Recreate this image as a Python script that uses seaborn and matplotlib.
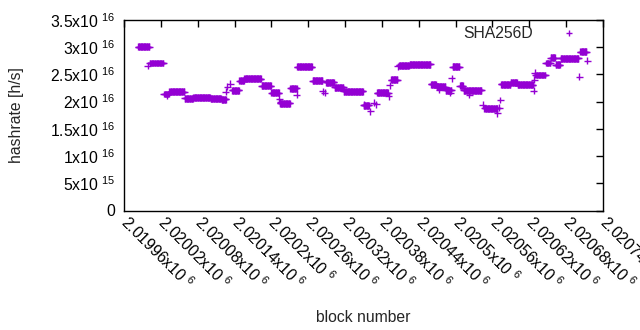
import numpy as np
import pandas as pd
import matplotlib
matplotlib.use("Agg")
import matplotlib.pyplot as plt
import seaborn as sns
from matplotlib.ticker import FuncFormatter, MultipleLocator

# ------------------------
# DATA (hashrate in units of 1e16 h/s)
# runs of blocks that share one hashrate estimate
# ------------------------
seg_start = [2019983, 2020002, 2020025, 2020034, 2020059, 2020073, 2020101, 2020119,
             2020136, 2020148, 2020156, 2020184, 2020200, 2020214, 2020231, 2020242,
             2020267, 2020289, 2020303, 2020318, 2020350, 2020372, 2020395, 2020408,
             2020425, 2020460, 2020469, 2020484, 2020495, 2020507, 2020513, 2020547,
             2020574, 2020590, 2020601, 2020630, 2020647, 2020655, 2020663, 2020671,
             2020703]
seg_end = [2020001, 2020024, 2020033, 2020058, 2020072, 2020100, 2020118, 2020126,
           2020147, 2020155, 2020183, 2020199, 2020212, 2020230, 2020241, 2020266,
           2020283, 2020302, 2020317, 2020349, 2020359, 2020390, 2020405, 2020424,
           2020459, 2020468, 2020483, 2020493, 2020506, 2020512, 2020542, 2020568,
           2020589, 2020600, 2020626, 2020646, 2020654, 2020662, 2020670, 2020700,
           2020713]
seg_rate = [3.01, 2.71, 2.14, 2.18, 2.06, 2.08, 2.06, 2.04,
            2.21, 2.38, 2.42, 2.29, 2.16, 1.97, 2.25, 2.64,
            2.38, 2.36, 2.26, 2.19, 1.93, 2.16, 2.40, 2.67,
            2.69, 2.32, 2.27, 2.21, 2.64, 2.29, 2.21, 1.88,
            2.32, 2.35, 2.31, 2.49, 2.71, 2.81, 2.68, 2.80,
            2.92]

# single blocks off the plateaus
pt_block = [2019999, 2020030, 2020126, 2020128, 2020133, 2020213, 2020214, 2020241,
            2020284, 2020287, 2020351, 2020361, 2020367, 2020371, 2020391, 2020393,
            2020406, 2020473, 2020491, 2020494, 2020522, 2020544, 2020568, 2020571,
            2020573, 2020627, 2020628, 2020629, 2020701, 2020714]
pt_rate = [2.66, 2.12, 2.18, 2.27, 2.33, 2.05, 1.99, 2.13,
           2.19, 2.16, 1.94, 1.82, 1.98, 1.95, 2.10, 2.30,
           2.65, 2.22, 2.16, 2.43, 2.13, 1.94, 1.79, 1.89,
           2.03, 2.20, 2.40, 2.53, 2.46, 2.75]

x_ticks = np.arange(2019960, 2020741, 60)

# ------------------------
# build table
# ------------------------
rows = []
for s, e, r in zip(seg_start, seg_end, seg_rate):
    for b in range(s, e + 1):
        rows.append((b, r * 1e16))
for b, r in zip(pt_block, pt_rate):
    rows.append((b, r * 1e16))
df = pd.DataFrame(rows, columns=["block", "hashrate"])
df["algo"] = "SHA256D"

# ------------------------
# style
# ------------------------
sns.set_style("white")
plt.rcParams["font.family"] = ["Liberation Sans", "DejaVu Sans"]
plt.rcParams["mathtext.fontset"] = "custom"
plt.rcParams["mathtext.rm"] = "Liberation Sans"
plt.rcParams["mathtext.default"] = "regular"
FS = 11.3

fig = plt.figure(figsize=(6.4, 3.3), dpi=100)
ax = fig.add_axes([124 / 640, 1 - 210.5 / 330, (603 - 124) / 640, (210.5 - 20) / 330])

sns.scatterplot(data=df, x="block", y="hashrate", hue="algo", palette=["#9400d3"],
                marker="+", s=25, linewidth=1.0, ax=ax)

ax.set_xlim(2019960, 2020740)
ax.set_ylim(0, 3.5e16)


def sci(v, pos=None):
    if v == 0:
        return "0"
    e = int(np.floor(np.log10(abs(v)) + 1e-9))
    m = v / 10 ** e
    return f"{m:g}x10 $^{{{e}}}$"


ax.set_xticks(x_ticks)
ax.yaxis.set_major_locator(MultipleLocator(5e15))
ax.xaxis.set_major_formatter(FuncFormatter(sci))
ax.yaxis.set_major_formatter(FuncFormatter(sci))

ax.tick_params(direction="in", top=True, right=True, length=5, width=1,
               labelsize=FS, colors="black", pad=6)
for lab in ax.get_xticklabels():
    lab.set_rotation(-45)
    lab.set_ha("left")
    lab.set_va("center")
    lab.set_rotation_mode("anchor")

for sp in ax.spines.values():
    sp.set_color("black")
    sp.set_linewidth(1)

ax.set_xlabel("block number", fontsize=FS)
ax.set_ylabel("hashrate [h/s]", fontsize=FS)
ax.xaxis.label.set_va("center")
ax.yaxis.label.set_va("center")
ax.xaxis.set_label_coords(0.5, -(317 - 210.5) / 190.5)
ax.yaxis.set_label_coords(-(124 - 17) / 479, 0.5)

ax.legend(loc="upper right", bbox_to_anchor=(585 / 640, 1 - 26 / 330),
          bbox_transform=fig.transFigure, frameon=False, markerfirst=False,
          borderpad=0, borderaxespad=0, handletextpad=1.3, fontsize=FS,
          markerscale=1.0)

fig.savefig("out.png", dpi=100)
